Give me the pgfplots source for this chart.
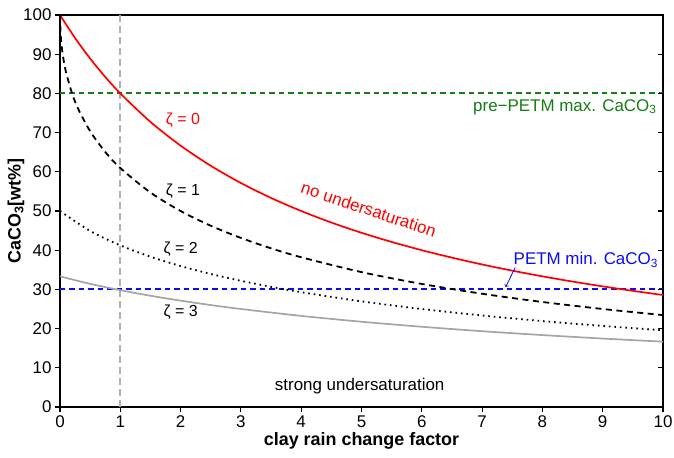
\documentclass[border=0pt]{standalone}
\usepackage{fontspec}
\setmainfont{Liberation Sans}
\usepackage{pgfplots}
\pgfplotsset{compat=1.18}

\definecolor{petmgreen}{RGB}{20,125,20}
\definecolor{petmblue}{RGB}{10,10,245}
\definecolor{zgray}{RGB}{165,165,165}
\definecolor{vgray}{RGB}{175,175,175}

\begin{document}
\begin{tikzpicture}
\begin{axis}[
    scale only axis,
    width=603bp, height=392bp,
    xmin=0, xmax=10, ymin=0, ymax=100,
    xtick={0,1,...,10}, ytick={0,10,...,100},
    xtick pos=left, ytick pos=left,
    tick align=outside,
    major tick length=5bp,
    tick style={black, line width=1.1bp},
    axis line style={line width=2.2bp},
    /pgf/number format/assume math mode=true,
    ticklabel style={font=\fontsize{17}{19}\selectfont},
    xlabel={clay rain change factor},
    ylabel={CaCO\textsubscript{3}[wt\%]},
    label style={font=\fontsize{18}{20}\selectfont\bfseries},
    xlabel style={yshift=2bp},
    ylabel style={yshift=-8bp},
]
% reference lines
\addplot[draw=vgray, line width=1.8bp, dash pattern=on 7bp off 4bp] coordinates {(1,0) (1,100)};
\addplot[draw=petmgreen, line width=2.2bp, dash pattern=on 5.5bp off 4bp] coordinates {(0,80) (5,80) (10,80)};
\addplot[draw=petmblue, line width=2.2bp, dash pattern=on 5.5bp off 4bp] coordinates {(0,30) (5,30) (10,30)};

% zeta = 0
\addplot[red, line width=1.7bp, smooth] coordinates {
(0,100) (0.25,94.12) (0.5,88.89) (0.75,84.21) (1,80) (1.5,72.73) (2,66.67)
(2.5,61.54) (3,57.14) (3.5,53.33) (4,50) (4.5,47.06) (5,44.44) (5.5,42.11)
(6,40) (6.5,38.10) (7,36.36) (7.5,34.78) (8,33.33) (8.5,32.00) (9,30.77)
(9.5,29.63) (10,28.57)};

% zeta = 1
\addplot[black, line width=1.8bp, dash pattern=on 6bp off 4.5bp, smooth] coordinates {
(0,100) (0.01,95.12) (0.02,93.17) (0.05,89.43) (0.1,85.39) (0.2,80.00)
(0.3,76.11) (0.5,70.35) (0.75,65.07) (1,60.96) (1.5,54.71) (2,50.00)
(2.5,46.24) (3,43.13) (3.5,40.48) (4,38.20) (5,34.41) (6,31.39) (7,28.89)
(8,26.79) (9,25.00) (10,23.44)};

% zeta = 2
\addplot[black, line width=1.8bp, dash pattern=on 1.6bp off 3.9bp, smooth] coordinates {
(0,50.00) (0.5,44.91) (1,41.23) (1.5,38.34) (2,35.96) (2.5,33.94) (3,32.19)
(3.5,30.66) (4,29.29) (5,26.95) (6,25.00) (7,23.35) (8,21.92) (9,20.68)
(10,19.58)};

% zeta = 3
\addplot[zgray, line width=1.7bp, smooth] coordinates {
(0,33.33) (0.5,31.42) (1,29.80) (1.5,28.38) (2,27.13) (2.5,26.01) (3,25.00)
(4,23.24) (5,21.75) (6,20.47) (7,19.34) (8,18.35) (9,17.46) (10,16.67)};

% annotations
\node[red, font=\fontsize{16}{18}\selectfont] at (axis cs:2.04,73.2) {ζ = 0};
\node[black, font=\fontsize{16}{18}\selectfont] at (axis cs:2.04,55.1) {ζ = 1};
\node[black, font=\fontsize{16}{18}\selectfont] at (axis cs:2.0,40.3) {ζ = 2};
\node[black, font=\fontsize{16}{18}\selectfont] at (axis cs:2.0,24.1) {ζ = 3};
\node[red, rotate=-18.5, inner sep=0pt, font=\fontsize{17}{19}\selectfont] at (axis cs:5.12,50.4) {no undersaturation};
\node[black, font=\fontsize{17}{19}\selectfont] at (axis cs:4.97,5.4) {strong undersaturation};
\node[petmgreen, anchor=base east, font=\fontsize{17}{19}\selectfont] at (axis cs:9.95,75.5) {pre−PETM max. CaCO\textsubscript{3}};
\node[petmblue, anchor=base, font=\fontsize{17}{19}\selectfont] at (axis cs:8.72,36.3) {PETM min. CaCO\textsubscript{3}};
\draw[petmblue, ->, line width=0.8bp] (axis cs:7.55,35.6) -- (axis cs:7.39,30.6);
\end{axis}
% inward ticks on the right side
\begin{axis}[
    scale only axis,
    width=603bp, height=392bp,
    xmin=0, xmax=10, ymin=0, ymax=100,
    axis line style={draw=none},
    xtick=\empty, ytick={0,10,...,100}, yticklabels={},
    ytick pos=right, tick align=inside,
    major tick length=5bp,
    tick style={black, line width=1.1bp},
]
\end{axis}
\pgfresetboundingbox
\path[use as bounding box] (-60bp,-51bp) rectangle (614bp,407bp);
\end{tikzpicture}
\end{document}
